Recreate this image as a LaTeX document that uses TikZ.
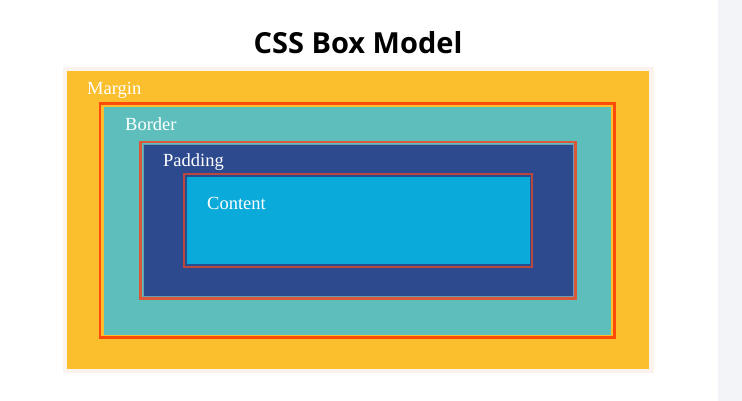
\documentclass[tikz,border=0pt]{standalone}
\usepackage{fontspec}
\setmainfont{Liberation Serif}
\newfontfamily\titlefont{Open Sans}
\definecolor{strip}{RGB}{243,244,248}
\definecolor{frame}{RGB}{253,243,237}
\definecolor{marginc}{RGB}{251,190,44}
\definecolor{borderline}{RGB}{255,74,10}
\definecolor{borderc}{RGB}{93,190,187}
\definecolor{padline}{RGB}{218,88,58}
\definecolor{paddingc}{RGB}{46,74,142}
\definecolor{padedge}{RGB}{110,155,176}
\definecolor{contline}{RGB}{186,72,62}
\definecolor{contentc}{RGB}{10,171,218}
\definecolor{contedge}{RGB}{32,80,145}
\tikzset{
  lbl/.style={text=white, font=\fontsize{18.5}{20}\selectfont, anchor=base west, inner sep=0pt},
}
\begin{document}
\begin{tikzpicture}[x=1pt,y=-1pt]
\useasboundingbox (0,0) rectangle (742,401);
\fill[white] (0,0) rectangle (742,401);
\fill[strip] (718,0) rectangle (742,401);
% margin
\fill[frame] (63,67) rectangle (654,373);
\fill[marginc] (67,71.5) rectangle (648.5,369);
% border
\draw[borderline, line width=2.6pt] (100,103.7) rectangle (614.7,337.3);
\fill[borderc] (104,107) rectangle (611,334.5);
% padding
\draw[padline, line width=2.2pt] (140.5,142) rectangle (575.5,298.5);
\draw[padedge, fill=paddingc, line width=0.8pt] (143,144) rectangle (573,296.5);
% content
\draw[contline, line width=2pt] (184.3,174) rectangle (531.7,267);
\draw[contedge, fill=contentc, line width=1.5pt] (186.2,176.2) rectangle (530.3,264.8);
% labels
\node[anchor=base, inner sep=0pt, font=\titlefont\bfseries\fontsize{29}{32}\selectfont] (title) at (358,54) {CSS Box Model};
\node[lbl] (margin) at (87,95) {Margin};
\node[lbl] (border) at (125,131) {Border};
\node[lbl] (padding) at (163,167) {Padding};
\node[lbl] (content) at (207,210) {Content};
\end{tikzpicture}
\end{document}
